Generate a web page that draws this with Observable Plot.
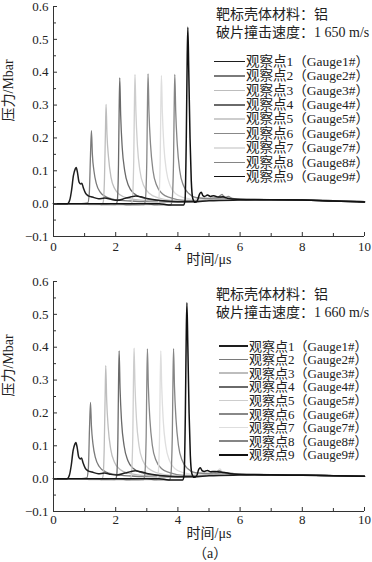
<!DOCTYPE html>
<html><head><meta charset="utf-8">
<script src="https://cdn.jsdelivr.net/npm/d3@7"></script>
<script src="https://cdn.jsdelivr.net/npm/@observablehq/plot@0.6"></script>
<style>
body{margin:0;background:#fff;}
#wrap{position:relative;width:372px;height:562px;overflow:hidden;font-family:"Liberation Serif","Noto Sans CJK SC",serif;color:#222;}
.panel{position:absolute;left:0;}
.t{position:absolute;white-space:nowrap;line-height:1;}
</style></head><body><div id="wrap"></div>
<script>
// ---------- data ----------
const xTicksMajor = [0, 2, 4, 6, 8, 10];
const xTicksMinor = [1, 3, 5, 7, 9];
const yTicksMajor = [-0.1, 0, 0.1, 0.2, 0.3, 0.4, 0.5, 0.6];
const yTicksMinor = [-0.05, 0.05, 0.15, 0.25, 0.35, 0.45, 0.55];
const xLabel = "时间/μs";
const yLabel = "压力/Mbar";
const materialText = "靶标壳体材料：铝";
const speedTop = "破片撞击速度：1 650 m/s";
const speedBottom = "破片撞击速度：1 660 m/s";
const gaugeNames = ["观察点1（Gauge1#）","观察点2（Gauge2#）","观察点3（Gauge3#）","观察点4（Gauge4#）","观察点5（Gauge5#）","观察点6（Gauge6#）","观察点7（Gauge7#）","观察点8（Gauge8#）","观察点9（Gauge9#）"];
const gaugeColors = ["#1e1e1e","#7a7a7a","#bdbdbd","#6a6a6a","#cdcdcd","#888888","#dedede","#858585","#111111"];
const caption = "（a）";

// top panel (1 650 m/s): [time μs, pressure Mbar]
const topG1 = [[0,0],[0.45,0],[0.52,0.01],[0.58,0.04],[0.64,0.085],[0.7,0.106],[0.73,0.11],[0.77,0.095],[0.82,0.066],[0.87,0.06],[0.91,0.062],[0.96,0.048],[1.03,0.032],[1.12,0.024],[1.25,0.02],[1.45,0.015],[1.65,0.017],[1.85,0.013],[2.05,0.01],[2.3,0.016],[2.5,0.021],[2.65,0.023],[2.8,0.021],[3.0,0.016],[3.3,0.011],[3.6,0.008],[4.0,0.006],[4.5,0.006],[5,0.009],[6,0.011],[7,0.012],[8,0.011],[9,0.008],[10,0.005]];
const topG2 = [[0,0],[0.9,0],[1.1,0.002],[1.15,0.03],[1.19,0.15],[1.22,0.222],[1.25,0.15],[1.3,0.1],[1.38,0.06],[1.5,0.035],[1.7,0.02],[2.0,0.012],[2.5,0.008],[3.0,0.006],[4.0,0.005],[4.5,0.006],[5.0,0.012],[5.5,0.015],[6,0.014],[7,0.012],[8,0.011],[9,0.009],[10,0.006]];
const topG3 = [[0,0],[0.9,0],[1.2,-0.003],[1.55,-0.003],[1.6,0.005],[1.64,0.08],[1.67,0.22],[1.69,0.302],[1.72,0.21],[1.77,0.14],[1.85,0.08],[1.97,0.045],[2.15,0.026],[2.4,0.016],[3.0,0.009],[4.0,0.006],[4.6,0.008],[5.0,0.013],[5.5,0.016],[6,0.014],[7,0.012],[8,0.011],[9,0.009],[10,0.006]];
const topG4 = [[0,0],[1.3,0],[1.6,-0.003],[2.0,-0.003],[2.05,0.008],[2.09,0.12],[2.11,0.28],[2.13,0.383],[2.16,0.27],[2.21,0.17],[2.29,0.1],[2.41,0.055],[2.6,0.03],[2.85,0.018],[3.3,0.01],[4.0,0.007],[4.6,0.009],[5.0,0.014],[5.5,0.017],[6,0.014],[7,0.012],[8,0.011],[9,0.009],[10,0.006]];
const topG5 = [[0,0],[1.7,0],[2.0,-0.004],[2.48,-0.004],[2.53,0.008],[2.58,0.13],[2.6,0.29],[2.62,0.393],[2.65,0.28],[2.7,0.175],[2.78,0.1],[2.9,0.055],[3.1,0.03],[3.35,0.018],[3.8,0.01],[4.5,0.008],[5.0,0.014],[5.5,0.016],[6,0.014],[7,0.012],[8,0.011],[9,0.009],[10,0.006]];
const topG6 = [[0,0],[2.1,0],[2.4,-0.004],[2.9,-0.004],[2.95,0.008],[3.0,0.13],[3.02,0.29],[3.04,0.395],[3.07,0.28],[3.12,0.18],[3.2,0.1],[3.32,0.055],[3.5,0.03],[3.75,0.018],[4.2,0.01],[4.6,0.01],[5.0,0.015],[5.4,0.018],[6,0.014],[7,0.012],[8,0.011],[9,0.009],[10,0.006]];
const topG7 = [[0,0],[2.6,0],[2.9,-0.004],[3.33,-0.004],[3.38,0.008],[3.43,0.13],[3.45,0.29],[3.47,0.39],[3.5,0.28],[3.55,0.175],[3.63,0.1],[3.75,0.055],[3.93,0.03],[4.2,0.018],[4.6,0.012],[5.0,0.016],[5.3,0.02],[5.45,0.025],[5.6,0.016],[6,0.014],[7,0.012],[8,0.011],[9,0.009],[10,0.006]];
const topG8 = [[0,0],[3.0,0],[3.3,-0.004],[3.76,-0.004],[3.81,0.008],[3.86,0.13],[3.88,0.29],[3.9,0.393],[3.93,0.28],[3.98,0.18],[4.06,0.1],[4.18,0.055],[4.36,0.03],[4.6,0.018],[5.0,0.016],[5.3,0.02],[5.42,0.028],[5.5,0.018],[5.62,0.022],[5.75,0.015],[6,0.013],[7,0.012],[8,0.011],[9,0.009],[10,0.006]];
const topG9 = [[0,0],[3.4,0],[3.7,-0.004],[4.18,-0.004],[4.23,0.01],[4.27,0.2],[4.3,0.45],[4.32,0.537],[4.35,0.4],[4.39,0.2],[4.43,0.07],[4.48,0.015],[4.55,0.004],[4.62,0.008],[4.7,0.03],[4.75,0.035],[4.8,0.025],[4.86,0.022],[4.95,0.026],[5.05,0.022],[5.15,0.024],[5.3,0.02],[5.45,0.021],[5.6,0.016],[5.8,0.014],[6.2,0.012],[7,0.012],[8,0.011],[9,0.008],[10,0.005]];

// bottom panel (1 660 m/s)
const botG1 = [[0,0],[0.44,0],[0.51,0.01],[0.57,0.04],[0.63,0.085],[0.69,0.106],[0.72,0.11],[0.76,0.095],[0.81,0.066],[0.86,0.06],[0.9,0.063],[0.95,0.048],[1.02,0.032],[1.11,0.024],[1.24,0.02],[1.44,0.015],[1.64,0.017],[1.84,0.013],[2.04,0.011],[2.3,0.017],[2.5,0.022],[2.63,0.024],[2.8,0.021],[3.0,0.016],[3.3,0.011],[3.6,0.008],[4.0,0.006],[4.5,0.006],[5,0.009],[6,0.011],[7,0.012],[8,0.011],[9,0.009],[10,0.007]];
const botG2 = [[0,0],[0.9,0],[1.07,0.002],[1.12,0.03],[1.16,0.16],[1.19,0.232],[1.22,0.16],[1.27,0.105],[1.35,0.063],[1.47,0.037],[1.67,0.021],[1.97,0.013],[2.5,0.008],[3.0,0.006],[4.0,0.005],[4.5,0.006],[5.0,0.012],[5.5,0.015],[6,0.014],[7,0.012],[8,0.011],[9,0.009],[10,0.007]];
const botG3 = [[0,0],[0.9,0],[1.2,-0.003],[1.54,-0.003],[1.59,0.006],[1.63,0.09],[1.66,0.25],[1.68,0.344],[1.71,0.24],[1.76,0.155],[1.84,0.09],[1.96,0.05],[2.14,0.028],[2.4,0.017],[3.0,0.009],[4.0,0.006],[4.6,0.008],[5.0,0.013],[5.5,0.016],[6,0.014],[7,0.012],[8,0.011],[9,0.009],[10,0.007]];
const botG4 = [[0,0],[1.3,0],[1.6,-0.003],[1.98,-0.003],[2.03,0.008],[2.07,0.12],[2.09,0.28],[2.11,0.389],[2.14,0.275],[2.19,0.172],[2.27,0.1],[2.39,0.055],[2.58,0.03],[2.83,0.018],[3.3,0.01],[4.0,0.007],[4.6,0.009],[5.0,0.014],[5.5,0.017],[6,0.014],[7,0.012],[8,0.011],[9,0.009],[10,0.007]];
const botG5 = [[0,0],[1.7,0],[2.0,-0.004],[2.45,-0.004],[2.5,0.008],[2.55,0.13],[2.57,0.29],[2.59,0.397],[2.62,0.285],[2.67,0.178],[2.75,0.1],[2.87,0.055],[3.07,0.03],[3.32,0.018],[3.8,0.01],[4.5,0.008],[5.0,0.014],[5.5,0.016],[6,0.014],[7,0.012],[8,0.011],[9,0.009],[10,0.007]];
const botG6 = [[0,0],[2.1,0],[2.4,-0.004],[2.88,-0.004],[2.93,0.008],[2.98,0.13],[3.0,0.29],[3.02,0.395],[3.05,0.28],[3.1,0.18],[3.18,0.1],[3.3,0.055],[3.48,0.03],[3.73,0.018],[4.2,0.01],[4.6,0.01],[5.0,0.015],[5.4,0.018],[6,0.014],[7,0.012],[8,0.011],[9,0.009],[10,0.007]];
const botG7 = [[0,0],[2.6,0],[2.9,-0.004],[3.31,-0.004],[3.36,0.008],[3.41,0.13],[3.43,0.29],[3.45,0.389],[3.48,0.28],[3.53,0.175],[3.61,0.1],[3.73,0.055],[3.91,0.03],[4.18,0.018],[4.6,0.012],[5.0,0.016],[5.25,0.02],[5.35,0.03],[5.45,0.018],[6,0.014],[7,0.012],[8,0.011],[9,0.009],[10,0.007]];
const botG8 = [[0,0],[3.0,0],[3.3,-0.004],[3.72,-0.004],[3.77,0.008],[3.82,0.13],[3.84,0.29],[3.86,0.396],[3.89,0.28],[3.94,0.18],[4.02,0.1],[4.14,0.055],[4.32,0.03],[4.56,0.018],[5.0,0.016],[5.2,0.019],[5.33,0.024],[5.45,0.017],[5.7,0.015],[6,0.013],[7,0.012],[8,0.011],[9,0.009],[10,0.007]];
const botG9 = [[0,0],[3.4,0],[3.7,-0.004],[4.15,-0.004],[4.2,0.01],[4.24,0.2],[4.27,0.45],[4.29,0.535],[4.32,0.4],[4.36,0.2],[4.4,0.07],[4.45,0.015],[4.52,0.004],[4.6,0.008],[4.67,0.028],[4.72,0.033],[4.78,0.024],[4.85,0.022],[4.95,0.025],[5.05,0.021],[5.2,0.022],[5.35,0.02],[5.5,0.019],[5.7,0.015],[6.2,0.012],[7,0.011],[8,0.01],[9,0.009],[10,0.007]];

const topSeries = [topG1, topG2, topG3, topG4, topG5, topG6, topG7, topG8, topG9];
const botSeries = [botG1, botG2, botG3, botG4, botG5, botG6, botG7, botG8, botG9];
const drawOrder = [1, 2, 3, 4, 5, 6, 7, 0, 8];

// ---------- drawing ----------
const FONT = '"Liberation Serif","Noto Sans CJK SC",serif';
const wrap = document.getElementById("wrap");

function addText(txt, x, yc, size) {
  const d = document.createElement("div");
  d.className = "t";
  d.textContent = txt;
  d.style.left = x + "px";
  d.style.top = (yc - size / 2) + "px";
  d.style.fontSize = size + "px";
  wrap.appendChild(d);
  return d;
}

function makePanel(series, L) {
  const lineMarks = drawOrder.map(i => Plot.line(series[i], {
    x: d => d[0], y: d => d[1], stroke: gaugeColors[i],
    strokeWidth: (i === 0 || i === 8) ? 1.5 : 1.3, curve: "monotone-x"
  }));
  const svg = Plot.plot({
    width: 372, height: L.height,
    marginLeft: 53, marginRight: 8, marginTop: L.marginTop, marginBottom: L.marginBottom,
    x: {domain: [0, 10]},
    y: {domain: [-0.1, 0.6]},
    style: {fontFamily: FONT, fontSize: "13px", color: "#222", background: "transparent", overflow: "visible"},
    marks: [
      ...lineMarks,
      Plot.ruleX([0], {stroke: "#333"}),
      Plot.ruleY([-0.1], {stroke: "#333"}),
      Plot.axisX({ticks: xTicksMajor, tickSize: 0, tickPadding: L.xPad, tickFormat: d3.format("d"), label: null, fontSize: 13}),
      Plot.axisX({ticks: xTicksMajor, tickSize: 4, dy: -4, tickFormat: () => "", label: null, stroke: "#333"}),
      Plot.axisX({ticks: xTicksMinor, tickSize: 3, dy: -3, tickFormat: () => "", label: null, stroke: "#333"}),
      Plot.axisY({ticks: yTicksMajor, tickSize: 0, tickPadding: 5, tickFormat: d3.format(".1f"), label: null, fontSize: 13}),
      Plot.axisY({ticks: yTicksMajor, tickSize: 4, dx: 4, tickFormat: () => "", label: null, stroke: "#333"}),
      Plot.axisY({ticks: yTicksMinor, tickSize: 3, dx: 3, tickFormat: () => "", label: null, stroke: "#333"}),
      Plot.text([xLabel], {text: d => d, frameAnchor: "bottom", dy: L.xLabelDy, fontSize: 14, fill: "#222"}),
      Plot.text([yLabel], {text: d => d, frameAnchor: "left", rotate: -90, dx: -45, fontSize: 14, fill: "#222"})
    ]
  });
  svg.classList.add("panel");
  svg.style.top = L.top + "px";
  wrap.appendChild(svg);

  // legend / annotation overlay
  addText(materialText, L.titleX, L.title1Y, 14);
  addText(L.speed, L.titleX, L.title2Y, 14);
  gaugeNames.forEach((name, i) => {
    const yc = L.entryY0 + i * L.entryDy;
    const ln = document.createElement("div");
    ln.style.position = "absolute";
    ln.style.left = L.lineX1 + "px";
    ln.style.width = (L.lineX2 - L.lineX1) + "px";
    ln.style.top = (yc - 0.75) + "px";
    ln.style.height = "1.5px";
    ln.style.background = gaugeColors[i];
    wrap.appendChild(ln);
    addText(name, L.lineX2 + 1, yc, L.entrySize);
  });
}

makePanel(topSeries, {
  top: 0, height: 270, marginTop: 6, marginBottom: 34, xPad: 5, xLabelDy: 27,
  speed: speedTop, titleX: 216, title1Y: 15, title2Y: 33,
  entryY0: 61.7, entryDy: 14.375, lineX1: 214, lineX2: 245, entrySize: 13.5
});
makePanel(botSeries, {
  top: 270, height: 278, marginTop: 11, marginBottom: 37, xPad: 3, xLabelDy: 26,
  speed: speedBottom, titleX: 216, title1Y: 295, title2Y: 313,
  entryY0: 346, entryDy: 13.6, lineX1: 219, lineX2: 248, entrySize: 13
});

addText(caption, 193, 554, 14);
</script></body></html>
